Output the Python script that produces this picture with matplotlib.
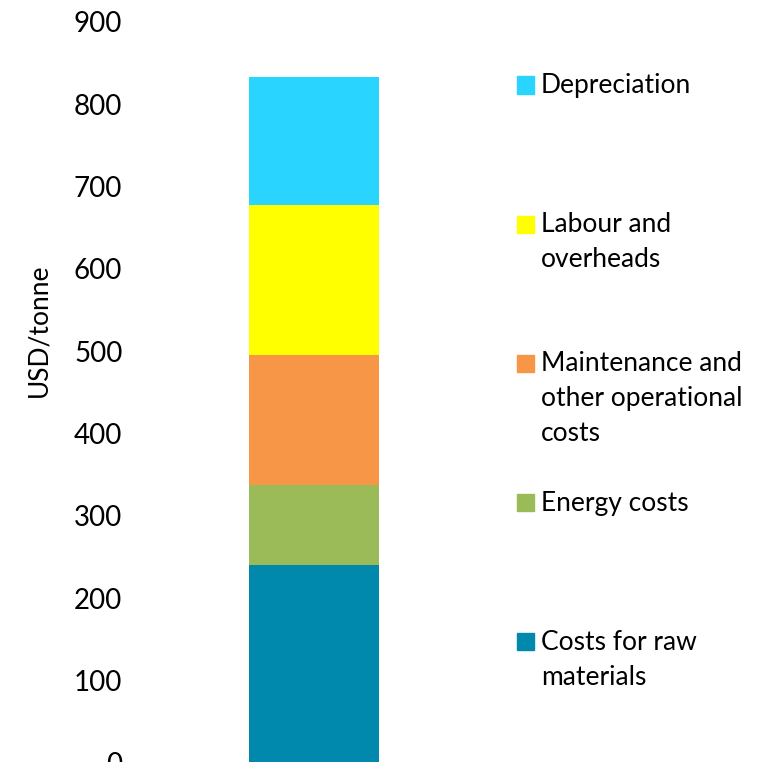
import matplotlib
matplotlib.use("Agg")
import matplotlib.pyplot as plt
from matplotlib.patches import Rectangle

# data (bottom to top of the stack)
categories = ["Costs for raw\nmaterials", "Energy costs",
              "Maintenance and\nother operational\ncosts",
              "Labour and\noverheads", "Depreciation"]
values = [240, 97, 158, 183, 155]
colors = ["#0089AD", "#9BBB59", "#F79646", "#FFFF00", "#29D4FF"]
yticks = [0, 100, 200, 300, 400, 500, 600, 700, 800, 900]

plt.rcParams["font.family"] = ["Lato", "DejaVu Sans"]

W, H = 774, 762
fig = plt.figure(figsize=(W / 100, H / 100), dpi=100)
ax = fig.add_axes([139 / W, -0.6 / H, 350 / W, 740.6 / H])

bottom = 0
for cat, v, c in zip(categories, values, colors):
    ax.bar(0, v, width=130 / 350, bottom=bottom, color=c, label=cat)
    bottom += v

ax.set_xlim(-0.5, 0.5)
ax.set_ylim(0, 900)
ax.set_yticks(yticks)
ax.set_xticks([])
ax.tick_params(axis="y", length=0, pad=12, labelsize=20)
for s in ax.spines.values():
    s.set_visible(False)
ax.set_ylabel("USD/tonne", fontsize=19)
ax.yaxis.set_label_coords(-88 / 350, (762 - 330) / 740.6)

# legend, drawn by hand: first lines evenly pitched
top_y, pitch = 85, 139.2
for i, (cat, c) in enumerate(zip(categories[::-1], colors[::-1])):
    yc = top_y + i * pitch
    fig.patches.append(Rectangle((517 / W, 1 - (yc + 8.5) / H), 17 / W, 17 / H,
                                 transform=fig.transFigure, color=c))
    fig.text(541 / W, 1 - (yc - 12) / H, cat, fontsize=19, va="top", ha="left",
             linespacing=1.5)

fig.savefig("out.png", dpi=100)
